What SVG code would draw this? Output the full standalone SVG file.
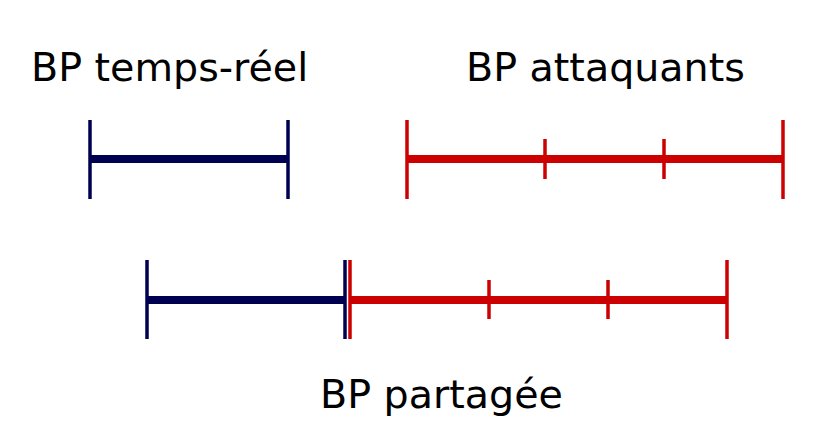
<svg xmlns="http://www.w3.org/2000/svg" width="814" height="440" viewBox="0 0 814 440">
<style>
text{font-family:"DejaVu Sans","Liberation Sans",sans-serif;font-size:39.6px;fill:#000}
.n{stroke:#000050}
.r{stroke:#cc0000}
.bar{stroke-width:8;fill:none}
.tk{stroke-width:3.5;fill:none}
</style>
<rect width="814" height="440" fill="#fff"/>
<g id="label-temps-reel"><text x="31" y="81">BP temps-réel</text></g>
<g id="label-attaquants"><text x="466" y="81">BP attaquants</text></g>
<g id="label-partagee"><text x="320" y="408">BP partagée</text></g>
<g id="bp-temps-reel">
<line class="n bar" x1="90" y1="159" x2="288" y2="159"/>
<line class="n tk" x1="90" y1="120" x2="90" y2="199"/>
<line class="n tk" x1="288" y1="120" x2="288" y2="199"/>
</g>
<g id="bp-attaquants">
<line class="r bar" x1="407" y1="159" x2="783" y2="159"/>
<line class="r tk" x1="407" y1="120" x2="407" y2="199"/>
<line class="r tk" x1="545" y1="139" x2="545" y2="179"/>
<line class="r tk" x1="664" y1="139" x2="664" y2="179"/>
<line class="r tk" x1="783" y1="120" x2="783" y2="199"/>
</g>
<g id="bp-partagee-tr">
<line class="n bar" x1="147" y1="300" x2="345" y2="300"/>
<line class="n tk" x1="147" y1="260" x2="147" y2="339"/>
<line class="n tk" x1="345" y1="260" x2="345" y2="339"/>
</g>
<g id="bp-partagee-att">
<line class="r bar" x1="350" y1="300" x2="727" y2="300"/>
<line class="r tk" x1="350" y1="260" x2="350" y2="339"/>
<line class="r tk" x1="489" y1="280" x2="489" y2="319"/>
<line class="r tk" x1="608" y1="280" x2="608" y2="319"/>
<line class="r tk" x1="727" y1="260" x2="727" y2="339"/>
</g>
</svg>
